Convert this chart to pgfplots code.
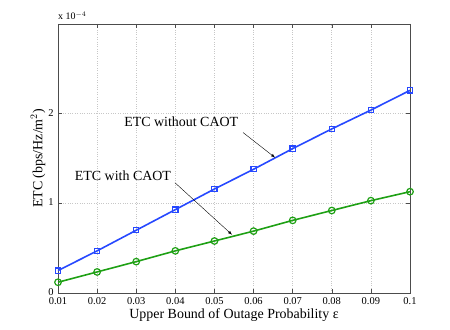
\documentclass[border=0pt]{standalone}
\usepackage{pgfplots}
\pgfplotsset{compat=1.18}
\usepackage{fontspec}
\setmainfont{Liberation Serif}

\definecolor{mblue}{RGB}{38,72,255}
\definecolor{mgreen}{RGB}{30,160,20}

\begin{document}
\begin{tikzpicture}
\begin{axis}[
    scale only axis,
    width=352bp, height=269bp,
    xmin=0.01, xmax=0.1,
    ymin=0, ymax=3,
    xtick={0.01,0.02,0.03,0.04,0.05,0.06,0.07,0.08,0.09,0.1},
    xticklabels={0.01,0.02,0.03,0.04,0.05,0.06,0.07,0.08,0.09,0.1},
    ytick={0,1,2},
    yticklabels={0,1,2},
    tick align=inside,
    major tick length=4bp,
    tick style={black!70, line width=0.5pt},
    axis line style={black!70, line width=0.6pt},
    ticklabel style={font=\fontsize{10.5}{12}\selectfont},
    xticklabel style={yshift=-1.5bp},
    yticklabel style={xshift=-1bp, yshift=1bp},
    xmajorgrids, ymajorgrids,
    grid style={dotted, black!22, line width=0.6pt},
    xlabel={Upper Bound of Outage Probability ε},
    ylabel={ETC (bps/Hz/m$^2$)},
    label style={font=\fontsize{14}{16}\selectfont},
    xlabel style={yshift=3bp},
    ylabel style={yshift=-4bp},
    clip=false,
]
\path[use as bounding box] (rel axis cs:-0.1648,-0.1375) rectangle (rel axis cs:1.1136,1.0892);

\addplot[mblue, line width=1.6pt, mark=square, mark size=2.6pt, mark options={line width=1.2pt}] coordinates {
    (0.01,0.25)(0.02,0.47)(0.03,0.70)(0.04,0.93)(0.05,1.16)
    (0.06,1.38)(0.07,1.61)(0.08,1.83)(0.09,2.04)(0.1,2.26)
};
\addplot[mgreen, line width=1.6pt, mark=o, mark size=3.3pt, mark options={line width=1.2pt}] coordinates {
    (0.01,0.12)(0.02,0.235)(0.03,0.35)(0.04,0.47)(0.05,0.58)
    (0.06,0.69)(0.07,0.81)(0.08,0.92)(0.09,1.03)(0.1,1.13)
};

\node[font=\fontsize{14}{16}\selectfont] at (axis cs:0.0415,1.91) {ETC without CAOT};
\draw[-latex, line width=0.4pt] (axis cs:0.0573,1.79) -- (axis cs:0.0655,1.51);
\node[font=\fontsize{14}{16}\selectfont] at (axis cs:0.0266,1.31) {ETC with CAOT};
\draw[-latex, line width=0.4pt] (axis cs:0.0399,1.23) -- (axis cs:0.0545,0.65);

\node[anchor=south west, inner sep=0pt, font=\fontsize{10}{12}\selectfont] at (rel axis cs:0,1.015) {x 10$^{-4}$};
\end{axis}
\end{tikzpicture}
\end{document}
